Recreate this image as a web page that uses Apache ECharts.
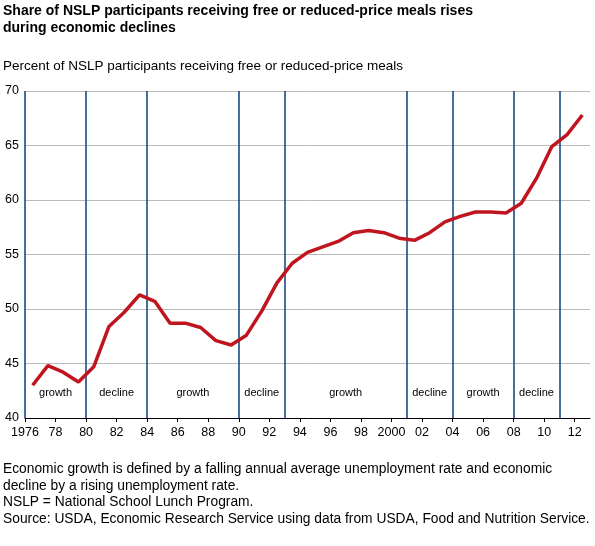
<!DOCTYPE html>
<html><head><meta charset="utf-8">
<script src="https://cdn.jsdelivr.net/npm/echarts@6/dist/echarts.min.js"></script>
<style>body{margin:0}#c{width:595px;height:546px}</style></head>
<body><div id="c"></div>
<script>
var years = [];
for (var y = 1976; y <= 2012; y++) years.push(y);
var shares = [43.0,44.8,44.2,43.3,44.7,48.4,49.7,51.3,50.7,48.7,48.7,48.3,47.1,46.7,47.6,49.8,52.4,54.2,55.2,55.7,56.2,57.0,57.2,57.0,56.5,56.3,57.0,58.0,58.5,58.9,58.9,58.8,59.7,62.0,64.9,66.0,67.8];
var breaks = [1976,1980,1984,1990,1993,2001,2004,2008,2011];
var phases = ["growth","decline","growth","decline","growth","decline","growth","decline"];

var chart = echarts.init(document.getElementById("c"));
var font = "Liberation Sans, Arial, sans-serif";
var areas = [];
for (var i = 0; i < phases.length; i++) {
    areas.push([{xAxis: breaks[i], name: phases[i]}, {xAxis: breaks[i + 1]}]);
}
chart.setOption({
    animation: false,
    textStyle: {fontFamily: font},
    graphic: [
        {type: "text", left: 3, top: 3, style: {text: "Share of NSLP participants receiving free or reduced-price meals rises\nduring economic declines", font: "bold 14px " + font, lineHeight: 17, fill: "#000"}},
        {type: "text", left: 3, top: 59, style: {text: "Percent of NSLP participants receiving free or reduced-price meals", font: "13.5px " + font, fill: "#000"}},
        {type: "text", left: 3, top: 461, style: {text: "Economic growth is defined by a falling annual average unemployment rate and economic\ndecline by a rising unemployment rate.\nNSLP = National School Lunch Program.\nSource: USDA, Economic Research Service using data from USDA, Food and Nutrition Service.", font: "13.8px " + font, lineHeight: 16.5, fill: "#000"}}
    ],
    grid: {left: 25, right: 5, top: 91, bottom: 128},
    xAxis: {
        type: "value", min: 1976, max: 2013, interval: 2,
        axisLine: {lineStyle: {color: "#000"}},
        axisTick: {show: true, length: 4, lineStyle: {color: "#000"}},
        splitLine: {show: false},
        axisLabel: {color: "#000", fontSize: 12.5, showMaxLabel: false, formatter: function(v) {
            if (v === 1976 || v === 2000) return String(v);
            return String(v).slice(2);
        }}
    },
    yAxis: {
        type: "value", min: 40, max: 70, interval: 5,
        axisLine: {show: false}, axisTick: {show: false},
        axisLabel: {color: "#000", fontSize: 12.5, margin: 6},
        splitLine: {lineStyle: {color: "#bbb"}}
    },
    series: [{
        type: "line",
        data: years.map(function(y, i) { return [y + 0.5, shares[i]]; }),
        symbol: "none",
        lineStyle: {color: "#c0151f", width: 3.5},
        markLine: {
            silent: true, symbol: "none", label: {show: false},
            lineStyle: {color: "#1a4a85", width: 1.6, type: "solid"},
            data: breaks.map(function(b) { return {xAxis: b}; })
        },
        markArea: {
            silent: true,
            itemStyle: {color: "rgba(0,0,0,0)"},
            label: {position: "insideBottom", distance: 20, color: "#000", fontSize: 11},
            data: areas
        },
        z: 5
    }]
});
</script></body></html>
